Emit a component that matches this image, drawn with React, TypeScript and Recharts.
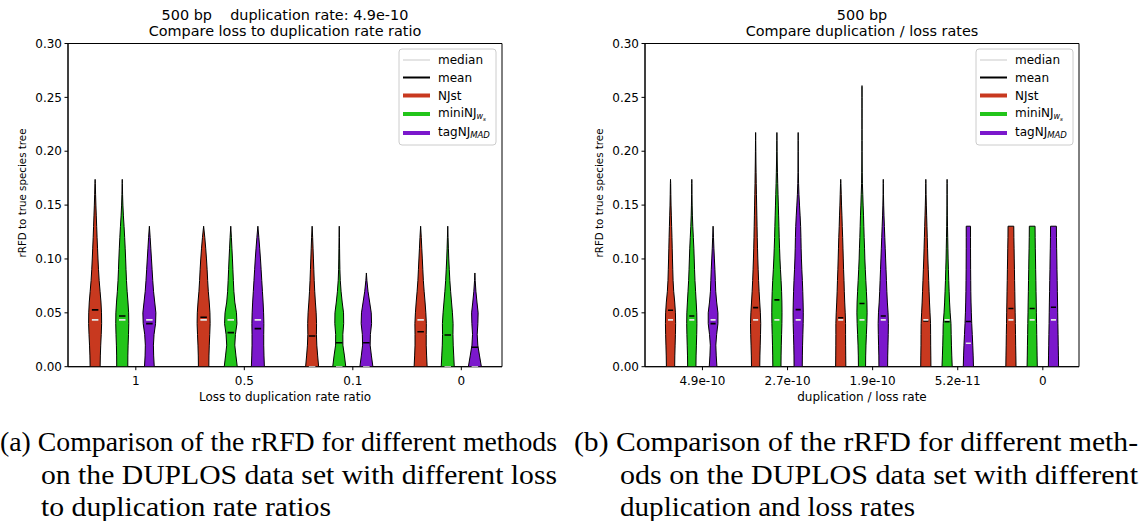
import React from "react";
import { ReferenceArea, Scatter, ScatterChart, XAxis, YAxis } from "recharts";

// density levels (rRFD) at which every violin's half-width is sampled
const LEVELS = [
  0, 0.01, 0.02, 0.03, 0.04, 0.05, 0.06, 0.07, 0.08, 0.09, 0.1, 0.11, 0.12,
  0.13, 0.14, 0.15, 0.16, 0.17, 0.18, 0.19, 0.2, 0.21, 0.22, 0.23, 0.24, 0.25,
  0.26,
];
const Y_TICKS = [0, 0.05, 0.1, 0.15, 0.2, 0.25, 0.3];

const METHOD_COLORS = ["#c8391f", "#22c51a", "#7b18cc"];
const MEDIAN_COLOR = "#e4e4e4";
const MEAN_COLOR = "#000000";

// ---- panel (a): loss to duplication rate ratio ----
const ratioLabels = ["1", "0.5", "0.1", "0"];
const ratioTops = [
  [0.1739, 0.1739, 0.1304],
  [0.1304, 0.1304, 0.1304],
  [0.1304, 0.1304, 0.087],
  [0.1304, 0.1304, 0.087],
];
const ratioTopWidths = [
  [0, 0, 0],
  [0, 0, 0],
  [0, 0, 0],
  [0, 0, 0],
];
const ratioMeans = [
  [0.0527, 0.047, 0.04],
  [0.0459, 0.0316, 0.0353],
  [0.0285, 0.0223, 0.0223],
  [0.0325, 0.0294, 0.018],
];
const ratioMedians = [
  [0.0435, 0.0435, 0.0435],
  [0.0435, 0.0435, 0.0435],
  [0, 0, 0],
  [0.0435, 0, 0],
];
// relative half-widths (1 = widest) at LEVELS[0..]
const ratioProfiles = [
  [
    [0.77, 0.8, 0.86, 0.94, 1.0, 0.98, 0.9, 0.76, 0.62, 0.52, 0.44, 0.37, 0.3, 0.24, 0.18, 0.12, 0.07, 0.03],
    [0.85, 0.86, 0.9, 0.96, 1.0, 0.98, 0.88, 0.75, 0.65, 0.58, 0.52, 0.45, 0.37, 0.28, 0.18, 0.1, 0.05, 0.02],
    [0.75, 0.66, 0.62, 0.72, 0.95, 1.0, 0.82, 0.64, 0.52, 0.42, 0.32, 0.22, 0.12],
  ],
  [
    [0.8, 0.82, 0.87, 0.94, 1.0, 0.97, 0.86, 0.72, 0.62, 0.54, 0.44, 0.32, 0.18],
    [1.0, 0.8, 0.62, 0.72, 0.95, 0.88, 0.62, 0.48, 0.4, 0.33, 0.26, 0.18, 0.1],
    [1.0, 0.94, 0.9, 0.9, 0.92, 0.88, 0.8, 0.7, 0.6, 0.5, 0.4, 0.28, 0.15],
  ],
  [
    [1.0, 0.85, 0.72, 0.66, 0.68, 0.62, 0.5, 0.4, 0.32, 0.26, 0.2, 0.14, 0.08],
    [1.0, 0.8, 0.56, 0.55, 0.68, 0.66, 0.45, 0.28, 0.16, 0.1, 0.07, 0.05, 0.03],
    [1.0, 0.78, 0.58, 0.62, 0.8, 0.75, 0.5, 0.25, 0.08],
  ],
  [
    [1.0, 0.92, 0.86, 0.86, 0.88, 0.8, 0.68, 0.54, 0.42, 0.34, 0.26, 0.18, 0.1],
    [1.0, 0.92, 0.84, 0.8, 0.82, 0.72, 0.58, 0.44, 0.32, 0.24, 0.16, 0.1, 0.05],
    [1.0, 0.72, 0.45, 0.36, 0.46, 0.5, 0.32, 0.16, 0.05],
  ],
];

// ---- panel (b): duplication / loss rate ----
const rateLabels = ["4.9e-10", "2.7e-10", "1.9e-10", "5.2e-11", "0"];
const rateTops = [
  [0.1739, 0.1739, 0.1304],
  [0.2174, 0.2174, 0.2174],
  [0.1739, 0.2609, 0.1739],
  [0.1739, 0.1739, 0.1304],
  [0.1304, 0.1304, 0.1304],
];
const rateTopWidths = [
  [0, 0, 0],
  [0, 0, 0],
  [0, 0, 0],
  [0, 0, 0.42],
  [0.56, 0.56, 0.57],
];
const rateMeans = [
  [0.0524, 0.047, 0.04],
  [0.0548, 0.062, 0.053],
  [0.0455, 0.0586, 0.047],
  [0.0425, 0.0418, 0.042],
  [0.054, 0.054, 0.0552],
];
const rateMedians = [
  [0.0435, 0.0435, 0.0435],
  [0.0435, 0.0435, 0.0435],
  [0.0435, 0.0435, 0.0435],
  [0.0435, 0.0435, 0.0217],
  [0.0435, 0.0435, 0.0435],
];
const rateProfiles = [
  [
    [0.81, 0.84, 0.9, 0.96, 1.0, 0.96, 0.82, 0.62, 0.5, 0.44, 0.38, 0.33, 0.28, 0.22, 0.16, 0.1, 0.06, 0.03],
    [0.81, 0.84, 0.9, 0.96, 1.0, 0.97, 0.86, 0.74, 0.62, 0.54, 0.47, 0.4, 0.3, 0.2, 0.12, 0.07, 0.04, 0.02],
    [0.75, 0.62, 0.54, 0.7, 0.95, 0.95, 0.7, 0.52, 0.44, 0.36, 0.26, 0.16, 0.08],
  ],
  [
    [0.81, 0.84, 0.9, 0.96, 1.0, 0.93, 0.8, 0.68, 0.58, 0.5, 0.43, 0.37, 0.32, 0.28, 0.24, 0.2, 0.16, 0.12, 0.09, 0.06, 0.04, 0.02],
    [0.8, 0.82, 0.86, 0.92, 0.98, 1.0, 0.98, 0.92, 0.82, 0.7, 0.6, 0.52, 0.45, 0.4, 0.34, 0.28, 0.22, 0.16, 0.11, 0.07, 0.04, 0.02],
    [0.8, 0.82, 0.86, 0.92, 0.98, 1.0, 0.96, 0.9, 0.82, 0.72, 0.64, 0.58, 0.54, 0.48, 0.38, 0.26, 0.15, 0.08, 0.04, 0.02, 0.01, 0.01],
  ],
  [
    [1.0, 0.98, 0.96, 0.95, 0.95, 0.88, 0.78, 0.7, 0.64, 0.56, 0.5, 0.44, 0.38, 0.3, 0.24, 0.16, 0.1, 0.04],
    [0.7, 0.72, 0.78, 0.86, 0.95, 1.0, 0.96, 0.86, 0.75, 0.65, 0.56, 0.5, 0.42, 0.36, 0.3, 0.22, 0.15, 0.08, 0.05, 0.03, 0.02, 0.02, 0.01, 0.01, 0.01, 0.01, 0.01],
    [0.85, 0.87, 0.92, 0.97, 1.0, 0.94, 0.8, 0.7, 0.62, 0.54, 0.46, 0.38, 0.3, 0.22, 0.14, 0.08, 0.04, 0.02],
  ],
  [
    [1.0, 0.98, 0.95, 0.94, 0.92, 0.82, 0.72, 0.64, 0.56, 0.48, 0.4, 0.34, 0.28, 0.22, 0.16, 0.1, 0.05, 0.02],
    [1.0, 0.92, 0.85, 0.8, 0.76, 0.6, 0.48, 0.4, 0.32, 0.26, 0.2, 0.16, 0.12, 0.08, 0.05, 0.03, 0.02, 0.01],
    [1.0, 0.94, 0.86, 0.76, 0.66, 0.58, 0.52, 0.48, 0.46, 0.44, 0.43, 0.42, 0.42],
  ],
  [
    [1.0, 0.97, 0.93, 0.9, 0.86, 0.83, 0.79, 0.76, 0.72, 0.69, 0.65, 0.62, 0.58],
    [1.0, 0.96, 0.93, 0.89, 0.86, 0.82, 0.79, 0.75, 0.72, 0.68, 0.65, 0.61, 0.58],
    [1.0, 0.97, 0.93, 0.9, 0.86, 0.83, 0.8, 0.76, 0.73, 0.69, 0.66, 0.62, 0.59],
  ],
];

const VIOLIN_HALF = 0.06; // half of the violin width, x data units
const SLOT = 0.25; // spacing between the three methods inside a group
const FONT = "'DejaVu Sans', sans-serif";

type Pt = { x: number; y: number };
type Violin = { key: string; color: string; body: Pt[]; mean: Pt[]; median: Pt[] };

function buildViolins(
  tops: number[][],
  topWidths: number[][],
  profiles: number[][][],
  means: number[][],
  medians: number[][]
): Violin[] {
  const out: Violin[] = [];
  profiles.forEach((group, g) => {
    group.forEach((prof, m) => {
      const cx = g + (m - 1) * SLOT;
      const right: Pt[] = prof.map((w, i) => ({ x: cx + w * VIOLIN_HALF, y: LEVELS[i] }));
      right.push({ x: cx + topWidths[g][m] * VIOLIN_HALF, y: tops[g][m] });
      const left = right.map((p) => ({ x: 2 * cx - p.x, y: p.y })).reverse();
      const seg = (v: number) => [
        { x: cx - VIOLIN_HALF / 2, y: v },
        { x: cx + VIOLIN_HALF / 2, y: v },
      ];
      out.push({
        key: `${g}-${m}`,
        color: METHOD_COLORS[m],
        body: [...right, ...left],
        mean: seg(means[g][m]),
        median: seg(medians[g][m]),
      });
    });
  });
  return out;
}

const NoMarker = () => <g />;

const bodyLine = (fill: string) => (props: any) => {
  const pts: Pt[] = props.points || [];
  const d = pts.map((p, i) => `${i ? "L" : "M"}${p.x},${p.y}`).join("") + "Z";
  return <path d={d} fill={fill} stroke="#000" strokeWidth={1} strokeLinejoin="round" />;
};

const barLine = (stroke: string) => (props: any) => {
  const pts: Pt[] = props.points || [];
  if (pts.length < 2) return <g />;
  return (
    <line x1={pts[0].x} y1={pts[0].y} x2={pts[1].x} y2={pts[1].y} stroke={stroke} strokeWidth={1.6} />
  );
};

type PanelProps = {
  left: number;
  width: number;
  yAxisWidth: number;
  marginRight: number;
  domain: [number, number];
  labels: string[];
  violins: Violin[];
};

function ViolinPanel({ left, width, yAxisWidth, marginRight, domain, labels, violins }: PanelProps) {
  const ticks = labels.map((_, g) => g + SLOT / 2);
  const tickStyle = { fill: "#000", fontSize: 12, fontFamily: FONT };
  return (
    <div style={{ position: "absolute", left, top: 0 }}>
      <ScatterChart
        width={width}
        height={410}
        margin={{ top: 43.5, right: marginRight, bottom: 13.3, left: 0 }}
      >
        <XAxis
          type="number"
          dataKey="x"
          domain={domain}
          ticks={ticks}
          allowDataOverflow
          tickFormatter={(v: number) => labels[Math.round(v - SLOT / 2)]}
          tick={tickStyle}
          tickSize={3.5}
          tickMargin={6}
          height={30}
          axisLine={{ stroke: "#000" }}
          tickLine={{ stroke: "#000" }}
        />
        <YAxis
          type="number"
          dataKey="y"
          domain={[0, 0.3]}
          ticks={Y_TICKS}
          allowDataOverflow
          tickFormatter={(v: number) => v.toFixed(2)}
          tick={tickStyle}
          tickSize={3.5}
          tickMargin={2.5}
          width={yAxisWidth}
          axisLine={{ stroke: "#000" }}
          tickLine={{ stroke: "#000" }}
        />
        {/* axes frame: top and right spines */}
        <ReferenceArea
          x1={domain[0]}
          x2={domain[1]}
          y1={0}
          y2={0.3}
          fill="none"
          stroke="#000"
          strokeWidth={1}
          ifOverflow="visible"
        />
        {violins.map((v) => (
          <Scatter
            key={`body-${v.key}`}
            data={v.body}
            shape={NoMarker}
            line={bodyLine(v.color)}
            isAnimationActive={false}
          />
        ))}
        {violins.map((v) => (
          <Scatter
            key={`mean-${v.key}`}
            data={v.mean}
            shape={NoMarker}
            line={barLine(MEAN_COLOR)}
            isAnimationActive={false}
          />
        ))}
        {violins.map((v) => (
          <Scatter
            key={`median-${v.key}`}
            data={v.median}
            shape={NoMarker}
            line={barLine(MEDIAN_COLOR)}
            isAnimationActive={false}
          />
        ))}
      </ScatterChart>
    </div>
  );
}

function LegendBox({ x }: { x: number }) {
  const rows = [60, 77.5, 95.5, 114, 133];
  const hx = x + 4;
  const tx = x + 39;
  return (
    <g fontFamily={FONT} fontSize={12} fill="#000">
      <rect x={x} y={49} width={97} height={96} rx={3} fill="#fff" fillOpacity={0.8} stroke="#cccccc" />
      <line x1={hx} x2={hx + 27} y1={rows[0]} y2={rows[0]} stroke={MEDIAN_COLOR} strokeWidth={2} />
      <line x1={hx} x2={hx + 27} y1={rows[1]} y2={rows[1]} stroke={MEAN_COLOR} strokeWidth={2} />
      {METHOD_COLORS.map((c, i) => (
        <line key={c} x1={hx} x2={hx + 27} y1={rows[i + 2]} y2={rows[i + 2]} stroke={c} strokeWidth={4} />
      ))}
      <text x={tx} y={rows[0] + 4.3}>median</text>
      <text x={tx} y={rows[1] + 4.3}>mean</text>
      <text x={tx} y={rows[2] + 4.3}>NJst</text>
      <text x={tx} y={rows[3] + 2.5}>
        miniNJ
        <tspan fontSize={8} fontStyle="italic" dy={2.5}>w</tspan>
        <tspan fontSize={5.5} fontStyle="italic" dy={1.5}>s</tspan>
      </text>
      <text x={tx} y={rows[4] + 2.5}>
        tagNJ
        <tspan fontSize={8.5} fontStyle="italic" dy={2.5}>MAD</tspan>
      </text>
    </g>
  );
}

const captionA = [
  "(a) Comparison of the rRFD for different methods",
  "on the DUPLOS data set with different loss",
  "to duplication rate ratios",
];
const captionB = [
  "(b) Comparison of the rRFD for different meth-",
  "ods on the DUPLOS data set with different",
  "duplication and loss rates",
];

export default function App() {
  const ratioViolins = buildViolins(ratioTops, ratioTopWidths, ratioProfiles, ratioMeans, ratioMedians);
  const rateViolins = buildViolins(rateTops, rateTopWidths, rateProfiles, rateMeans, rateMedians);
  return (
    <div
      style={{ position: "absolute", left: 0, top: 0, width: 1142, height: 521, background: "#fff", overflow: "hidden" }}
    >
      <ViolinPanel
        left={0}
        width={571}
        yAxisWidth={68}
        marginRight={69}
        domain={[-0.5, 3.5]}
        labels={ratioLabels}
        violins={ratioViolins}
      />
      <ViolinPanel
        left={571}
        width={571}
        yAxisWidth={74}
        marginRight={63}
        domain={[-0.55, 4.55]}
        labels={rateLabels}
        violins={rateViolins}
      />
      <svg
        width={1142}
        height={521}
        style={{ position: "absolute", left: 0, top: 0, pointerEvents: "none" }}
      >
        <g fontFamily={FONT} fill="#000" textAnchor="middle">
          <text x={285} y={20} fontSize={14.4} xmlSpace="preserve">500 bp    duplication rate: 4.9e-10</text>
          <text x={285} y={36} fontSize={14.4}>Compare loss to duplication rate ratio</text>
          <text x={862} y={20} fontSize={14.4}>500 bp</text>
          <text x={862} y={36} fontSize={14.4}>Compare duplication / loss rates</text>
          <text x={285} y={401} fontSize={12}>Loss to duplication rate ratio</text>
          <text x={862} y={401} fontSize={12}>duplication / loss rate</text>
          <text x={0} y={0} fontSize={10.3} transform="translate(26,193) rotate(-90)">rRFD to true species tree</text>
          <text x={0} y={0} fontSize={10.3} transform="translate(603,193) rotate(-90)">rRFD to true species tree</text>
        </g>
        <LegendBox x={399} />
        <LegendBox x={976} />
        <g fontFamily="'Liberation Serif', 'Times New Roman', serif" fontSize={27} fill="#000">
          <text x={0} y={451} textLength={557} lengthAdjust="spacingAndGlyphs">{captionA[0]}</text>
          <text x={41} y={484} textLength={516} lengthAdjust="spacingAndGlyphs">{captionA[1]}</text>
          <text x={41} y={516} textLength={290} lengthAdjust="spacingAndGlyphs">{captionA[2]}</text>
          <text x={574} y={451} textLength={564} lengthAdjust="spacingAndGlyphs">{captionB[0]}</text>
          <text x={620} y={484} textLength={518} lengthAdjust="spacingAndGlyphs">{captionB[1]}</text>
          <text x={620} y={516} textLength={295} lengthAdjust="spacingAndGlyphs">{captionB[2]}</text>
        </g>
      </svg>
    </div>
  );
}
